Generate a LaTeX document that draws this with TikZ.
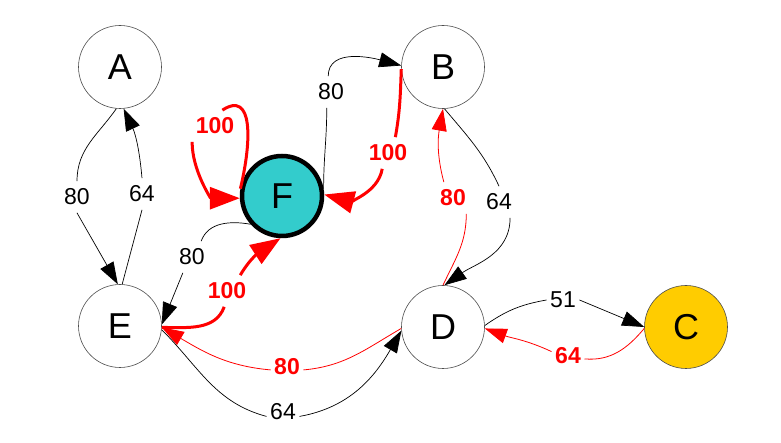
\documentclass[tikz,border=0pt]{standalone}
\usepackage{fontspec}
\setmainfont{Liberation Sans}
\usetikzlibrary{arrows.meta}
\tikzset{
  tipS/.tip={Triangle[length=22pt,width=15pt]},
  tipL/.tip={Triangle[length=30pt,width=22pt]},
}
\begin{document}
\begin{tikzpicture}[x=1pt,y=1pt,
  vtx/.style={circle,draw=black!70,line width=0.6pt,fill=white,minimum size=83pt,inner sep=0pt,font=\fontsize{36}{42}\selectfont},
  lbl/.style={inner xsep=3.5pt,inner ysep=7.5pt,font=\fontsize{23}{27}\selectfont},
  rlbl/.style={inner xsep=3.5pt,inner ysep=7.5pt,text=red,font=\fontsize{23}{27}\selectfont\bfseries},
  blk/.style={black,line width=0.7pt},
  rthin/.style={red,line width=0.8pt},
  rthick/.style={red,line width=3pt},
]
\useasboundingbox (0,0) rectangle (781,443);
\fill[white] (0,0) rectangle (781,443);

% vertices
\node[vtx] (A) at (120,376) {A};
\node[vtx] (B) at (443,376) {B};
\node[vtx,fill={rgb,255:red,51;green,204;blue,204},draw=black,line width=4.5pt,minimum size=80pt] (F) at (282,247) {F};
\node[vtx] (E) at (120,117) {E};
\node[vtx] (D) at (443,116) {D};
\node[vtx,fill={rgb,255:red,255;green,204;blue,0}] (C) at (686,116) {C};

% labels
\node[lbl]  (lAE) at (77,246)  {80};
\node[lbl]  (lEA) at (142,249) {64};
\node[rlbl] (lFF) at (215,317) {100};
\node[lbl]  (lFB) at (331,351) {80};
\node[rlbl] (lBF) at (388,290) {100};
\node[rlbl] (lDB) at (453,245) {80};
\node[lbl]  (lBD) at (499,241) {64};
\node[lbl]  (lDC) at (563,143) {51};
\node[rlbl] (lCD) at (568,87)  {64};
\node[lbl]  (lFE) at (192,186) {80};
\node[rlbl] (lEF) at (227,152) {100};
\node[rlbl] (lDE) at (287,76)  {80};
\node[lbl]  (lED) at (283,31)  {64};

% A -> E (80)
\draw[blk] (A.265) to[out=235,in=90] (lAE.north);
\draw[blk,-{tipS}] (lAE.south) -- (E.93);
% E -> A (64)
\draw[blk] (E.87) -- (lEA.south);
\draw[blk,-{tipS}] (lEA.north) to[out=95,in=-65] (A.275);

% F self loop (100)
\draw[rthick] (F.170) .. controls (252,303) and (253,353) .. (lFF.65);
\draw[rthick,-{tipL}] (lFF.south west) to[out=270,in=180] (F.183);

% F -> B (80)
\draw[blk] (F.10) to[out=90,in=-90] (lFB.-105);
\draw[blk,-{tipS}] (lFB.100) to[out=90,in=165] (B.178);
% B -> F (100)
\draw[rthick] (B.183) to[out=-92,in=80] (lBF.65);
\draw[rthick,-{tipL}] (lBF.-110) to[out=-100,in=-15] (F.2);

% D -> B (80)
\draw[rthin] (D.90) to[out=65,in=-90] (lDB.-50);
\draw[rthin,-{tipS}] (lDB.120) to[out=105,in=-100] (B.270);
% B -> D (64)
\draw[blk] (B.-88) to[out=-50,in=115] (lBD.north);
\draw[blk,-{tipS}] (lBD.-55) to[out=-90,in=35] (D.88);

% D -> C (51)
\draw[blk] (D.2) to[out=35,in=190] (lDC.west);
\draw[blk,-{tipS}] (lDC.east) -- (C.180);
% C -> D (64)
\draw[rthin] (C.182) to[out=230,in=-5] (lCD.-10);
\draw[rthin,-{tipS}] (lCD.165) to[out=155,in=-20] (D.-2);

% F -> E (80)
\draw[blk] (F.222) to[out=170,in=70] (lFE.60);
\draw[blk,-{tipS}] (lFE.-120) -- (E.2);
% E -> F (100)
\draw[rthick] (E.-2) to[out=0,in=250] (lEF.-100);
\draw[rthick,-{tipL}] (lEF.50) to[out=60,in=213] (F.268);

% D -> E (80)
\draw[rthin] (D.182) to[out=210,in=5] (lDE.-10);
\draw[rthin,-{tipS}] (lDE.190) to[out=175,in=-30] (E.-2);
% E -> D (64)
\draw[blk] (E.-5) to[out=-45,in=165] (lED.195);
\draw[blk,-{tipS}] (lED.-15) to[out=10,in=240] (D.185);
\end{tikzpicture}
\end{document}
